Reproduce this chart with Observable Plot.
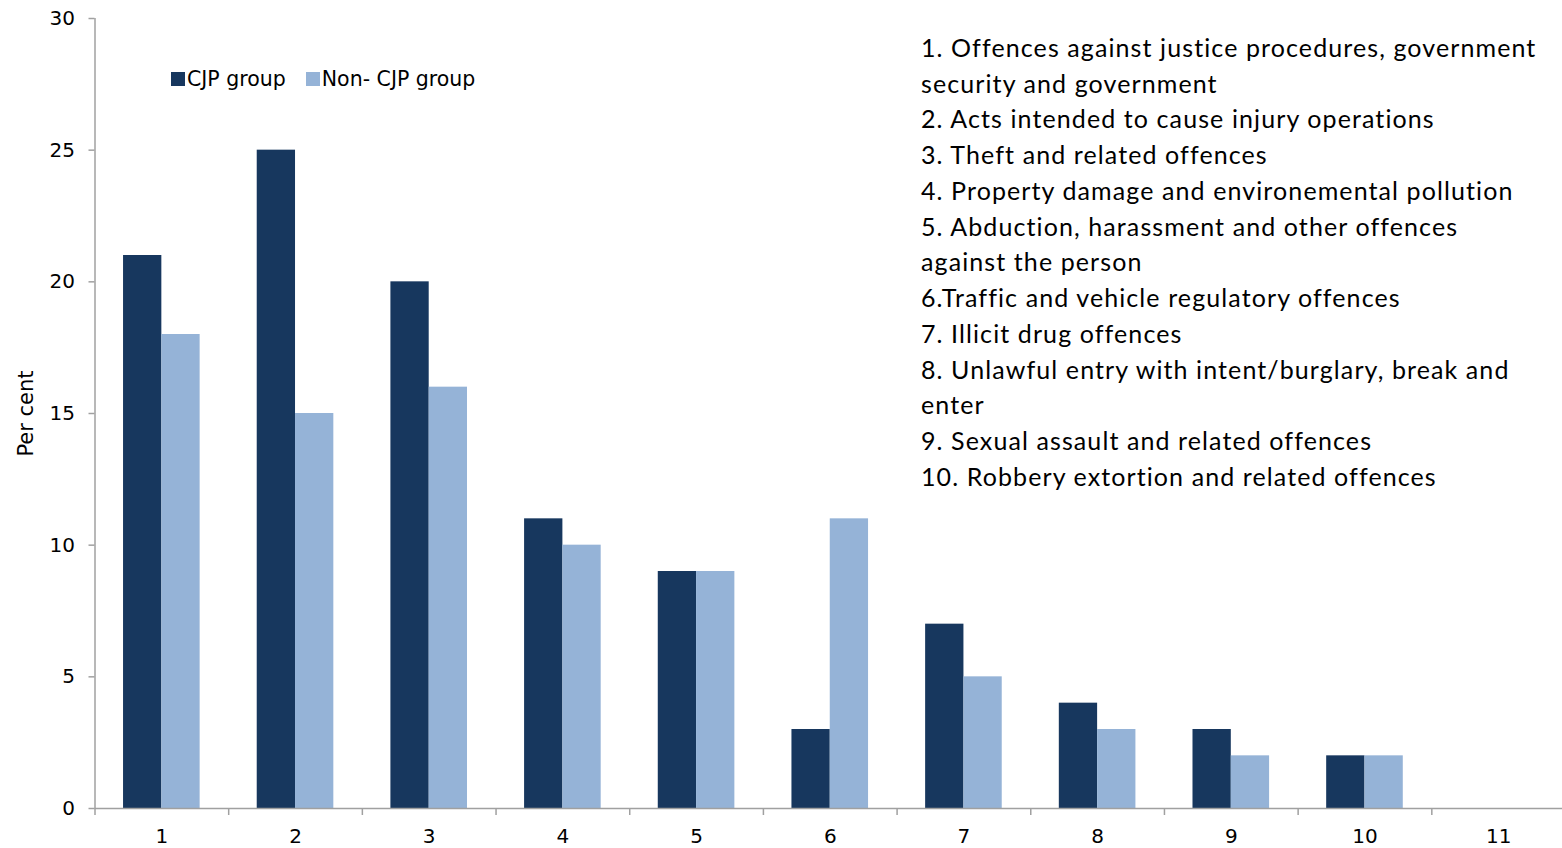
<!DOCTYPE html>
<html>
<head>
<meta charset="utf-8">
<script src="https://cdn.jsdelivr.net/npm/d3@7"></script>
<script src="https://cdn.jsdelivr.net/npm/@observablehq/plot@0.6"></script>
<style>
  body { margin: 0; background: #fff; overflow: hidden; }
  #wrap { position: relative; width: 1562px; height: 848px; }
  #wrap svg text { font-family: "DejaVu Sans", sans-serif; }
  #wrap g[font-family^="Lato"] text { font-family: Lato, sans-serif; letter-spacing: 1.1px; }
  .legend { position: absolute; left: 171px; top: 67px; display: flex; align-items: center;
            font: 20.5px "DejaVu Sans", sans-serif; line-height: 24px; color: #000; white-space: nowrap; }
  .legend .item { display: flex; align-items: center; margin-right: 20px; }
  .legend .sw { display: inline-block; width: 14px; height: 14px; margin-right: 2px; }
</style>
</head>
<body>
<div id="wrap"></div>
<script>
// Offence categories on the x axis
const categories = ["1", "2", "3", "4", "5", "6", "7", "8", "9", "10", "11"];
// Per cent of each group, by offence category
const cjpGroup    = [21, 25, 20, 11, 9, 3, 7, 4, 3, 2, null];
const nonCjpGroup = [18, 15, 16, 10, 9, 11, 5, 3, 2, 2, null];
const seriesNames = ["CJP group", "Non- CJP group"];
const seriesColors = ["#17375e", "#95b3d7"];
const yTicks = [0, 5, 10, 15, 20, 25, 30];
// Key to the category numbers
const offenceKey = [
  "1. Offences against justice procedures, government",
  "security and government",
  "2. Acts intended to cause injury operations",
  "3. Theft and related offences",
  "4. Property damage and environemental pollution",
  "5. Abduction, harassment and other offences",
  "against the person",
  "6.Traffic and vehicle regulatory offences",
  "7. Illicit drug offences",
  "8. Unlawful entry with intent/burglary, break and",
  "enter",
  "9. Sexual assault and related offences",
  "10. Robbery extortion and related offences"
];

// Each category occupies one unit on x; the two bars sit side by side around its centre
const barWidth = 0.2865;
const rows = [];
categories.forEach((c, i) => {
  const pos = i + 1;
  if (cjpGroup[i] != null) rows.push({pos, series: seriesNames[0], value: cjpGroup[i], x1: pos - barWidth, x2: pos});
  if (nonCjpGroup[i] != null) rows.push({pos, series: seriesNames[1], value: nonCjpGroup[i], x1: pos, x2: pos + barWidth});
});
const centres = categories.map((c, i) => i + 1);
const boundaries = [...centres.map(p => p - 0.5), categories.length + 0.5];
const axisGrey = "#a0a0a0";

const chart = Plot.plot({
  width: 1562,
  height: 848,
  marginTop: 18,
  marginBottom: 40,
  marginLeft: 94.5,
  marginRight: 0,
  style: {fontFamily: "DejaVu Sans, sans-serif", fontSize: "20px", color: "#000", background: "#fff"},
  x: {type: "linear", domain: [0.5, categories.length + 0.5], range: [94.5, 1565]},
  y: {domain: [0, 30], range: [808, 18]},
  color: {domain: seriesNames, range: seriesColors},
  marks: [
    Plot.rectY(rows, {x1: "x1", x2: "x2", y1: 0, y2: "value", fill: "series"}),
    Plot.ruleX([0.5], {stroke: axisGrey, strokeWidth: 1.5}),
    Plot.ruleY([0], {stroke: axisGrey, strokeWidth: 1.5}),
    Plot.axisY({ticks: yTicks, tickSize: 6, tickPadding: 14, stroke: axisGrey, strokeWidth: 1.5,
                fontSize: 20, fill: "#000", label: null}),
    Plot.axisX({ticks: boundaries, tickSize: 7, tickFormat: () => "", stroke: axisGrey, strokeWidth: 1.5, label: null}),
    Plot.axisX({ticks: centres, tickSize: 0, tickPadding: 20, fontSize: 20, fill: "#000",
                tickFormat: p => categories[p - 1], label: null}),
    Plot.text(["Per cent"], {frameAnchor: "left", dx: -69, rotate: -90, textAnchor: "middle",
                             lineAnchor: "middle", fontSize: 21, fill: "#000"}),
    Plot.text([offenceKey.join("\n")], {
      frameAnchor: "top-left", dx: 826, dy: 13, textAnchor: "start", lineAnchor: "top",
      lineHeight: 1.43, fontSize: 25, fontFamily: "Lato, sans-serif", fill: "#000"
    })
  ]
});

// Numeric tick labels use the same size on both axes
chart.querySelectorAll("text").forEach(t => {
  if (/^\d+$/.test(t.textContent.trim())) t.style.fontSize = "20px";
});

const wrap = document.getElementById("wrap");
wrap.appendChild(chart);

// Legend for the two groups
const legend = document.createElement("div");
legend.className = "legend";
seriesNames.forEach((name, i) => {
  const item = document.createElement("span");
  item.className = "item";
  const sw = document.createElement("span");
  sw.className = "sw";
  sw.style.background = seriesColors[i];
  item.appendChild(sw);
  item.appendChild(document.createTextNode(name));
  legend.appendChild(item);
});
wrap.appendChild(legend);
</script>
</body>
</html>
